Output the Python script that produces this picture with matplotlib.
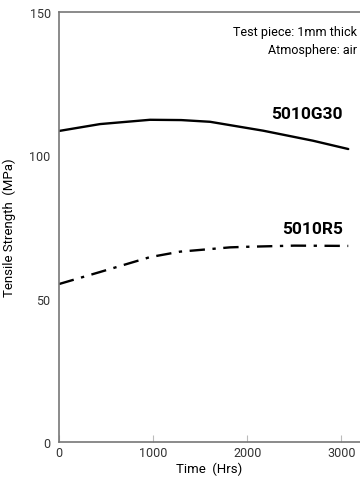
import matplotlib
matplotlib.use("Agg")
import matplotlib.pyplot as plt

# Data
g30_t = [0, 436, 968, 1300, 1606, 2170, 2700, 3075]
g30_v = [108.5, 110.9, 112.4, 112.3, 111.7, 108.6, 105.1, 102.2]

r5_t = [0, 436, 968, 1287, 1819, 2000, 2500, 3075]
r5_v = [55.1, 59.3, 64.5, 66.4, 67.9, 68.1, 68.5, 68.4]

x_ticks = [0, 1000, 2000, 3000]
y_ticks = [0, 50, 100, 150]

narrow = ["Roboto", "DejaVu Sans"]

fig = plt.figure(figsize=(3.6, 4.81), dpi=100)
ax = fig.add_axes([59 / 360, 1 - 443 / 481, 1 - 59 / 360, (443 - 13) / 481])

ax.plot(g30_t, g30_v, color="black", lw=1.7, solid_capstyle="round", solid_joinstyle="round")
ax.plot(r5_t, r5_v, color="black", lw=1.7, dashes=(6.5, 3.2, 1.4, 3.2))

ax.set_xlim(0, 3200)
ax.set_ylim(0, 150)

for s in ["left", "bottom", "top"]:
    ax.spines[s].set_color("#777777")
    ax.spines[s].set_linewidth(1.2)
ax.spines["right"].set_visible(False)

ax.set_xticks(x_ticks)
ax.set_yticks(y_ticks)
ax.set_xticklabels([str(v) for v in x_ticks], family=narrow, fontsize=9, color="#333333")
ax.set_yticklabels([str(v) for v in y_ticks], family=narrow, fontsize=9, color="#333333")
ax.tick_params(axis="x", direction="in", length=5, color="#bbbbbb", pad=3)
ax.tick_params(axis="y", length=0, pad=6)

ax.set_xlabel("Time  (Hrs)", family=narrow, fontsize=9.5, labelpad=2)
ax.set_ylabel("Tensile Strength  (MPa)", family=narrow, fontsize=9.5, labelpad=10)

ax.text(0.99, 0.955, "Test piece: 1mm thick", transform=ax.transAxes, ha="right", va="center",
        family=narrow, fontsize=9)
ax.text(0.99, 0.912, "Atmosphere: air", transform=ax.transAxes, ha="right", va="center",
        family=narrow, fontsize=9)

ax.text(2640, 114.5, "5010G30", ha="center", va="center", fontsize=12.5, fontweight="bold",
        family=narrow)
ax.text(2700, 74.5, "5010R5", ha="center", va="center", fontsize=12.5, fontweight="bold",
        family=narrow)

fig.savefig("out.png", dpi=100)
